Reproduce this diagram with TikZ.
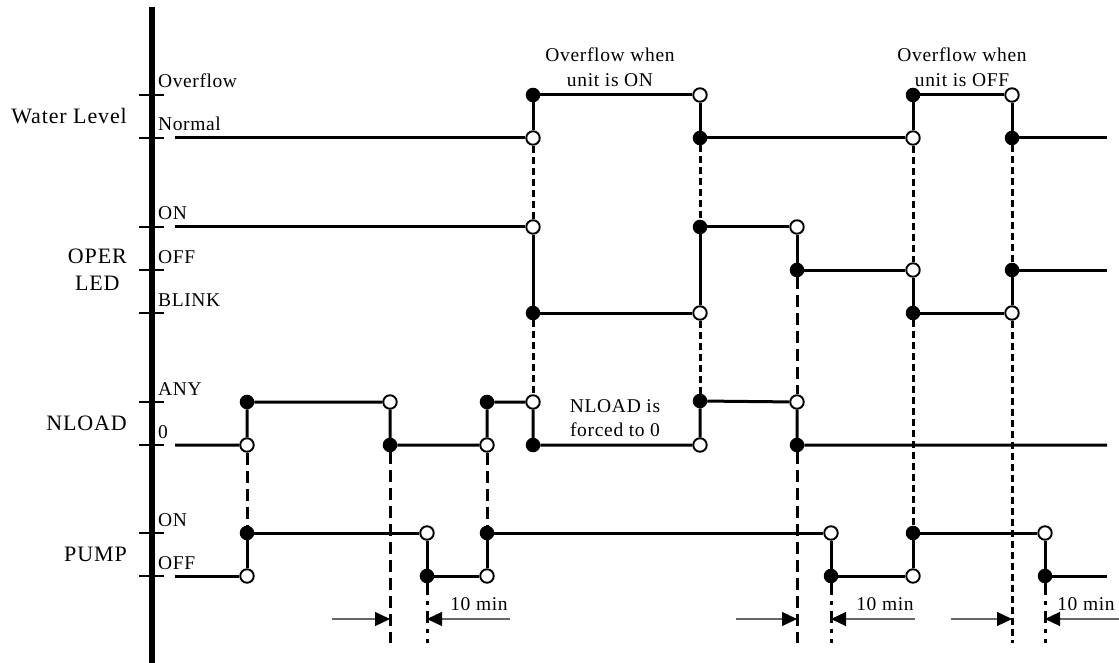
\documentclass[tikz,border=0pt]{standalone}
\usepackage{fontspec}
\setmainfont{Liberation Serif}
\usetikzlibrary{arrows.meta}
\begin{document}
\begin{tikzpicture}[x=1pt,y=-1pt,
  sig/.style={line width=3pt},
  fdot/.style={circle, fill=black, draw=black, line width=1pt, inner sep=0pt, minimum size=13.5pt},
  odot/.style={circle, fill=white, draw=black, line width=1.9pt, inner sep=0pt, minimum size=13.5pt},
  longdash/.style={line width=3pt, dash pattern=on 12pt off 6pt},
  shortdash/.style={line width=3pt, dash pattern=on 7pt off 4pt},
  dashdot/.style={line width=3pt, dash pattern=on 12pt off 6pt on 4pt off 6pt},
  tmark/.style={line width=2pt},
  timearrow/.style={draw=black!60, line width=1.2pt, -{Triangle[length=15pt,width=14pt,black]}},
  lvl/.style={anchor=base west, inner sep=0pt, font=\fontsize{19.5}{24}\selectfont\addfontfeature{LetterSpace=3}},
  signame/.style={anchor=east, inner sep=0pt, font=\fontsize{22}{27}\selectfont\addfontfeature{LetterSpace=4}, align=center},
  note/.style={inner sep=0pt, font=\fontsize{19.5}{24.5}\selectfont\addfontfeature{LetterSpace=3.5}, align=center}]
\useasboundingbox (0,0) rectangle (1119,663);

% axis and ticks
\draw[line width=5.5pt] (152,7) -- (152,663);
\foreach \yy in {95,138,227,270,313,402,445,533,576}
  \draw[tmark] (139,\yy) -- (164,\yy);

% signal names
\node[signame] (lwater) at (127,116.5) {Water Level};
\node[signame] (loper) at (127,270) {OPER\\LED};
\node[signame] (lnload) at (127,423.5) {NLOAD};
\node[signame] (lpump) at (127,554.5) {PUMP};

% level labels
\node[lvl] (tover) at (158,88) {Overflow};
\node[lvl] (tnorm) at (158,131) {Normal};
\node[lvl] (ton) at (158,220) {ON};
\node[lvl] (toff) at (158,263) {OFF};
\node[lvl] (tblink) at (158,306) {BLINK};
\node[lvl] (tany) at (158,395) {ANY};
\node[lvl] (tzero) at (158,438) {0};
\node[lvl] (tpon) at (158,526) {ON};
\node[lvl] (tpoff) at (158,569) {OFF};

% notes
\node[note] (n1) at (610,67) {Overflow when\\unit is ON};
\node[note] (n2) at (962,67) {Overflow when\\unit is OFF};
\node[note] (n3) at (615,418) {NLOAD is\\forced to 0};

% ---------- Water level
\coordinate (w0) at (175,138);
\coordinate (wend) at (1107,138);
\node[odot] (w1o) at (533,138) {};
\node[fdot] (w1f) at (533,95) {};
\node[odot] (w2o) at (700,95) {};
\node[fdot] (w2f) at (700,138) {};
\node[odot] (w3o) at (913,138) {};
\node[fdot] (w3f) at (913,95) {};
\node[odot] (w4o) at (1012,95) {};
\node[fdot] (w4f) at (1012,138) {};
\draw[sig] (w0) -- (w1o) -- (w1f) -- (w2o) -- (w2f) -- (w3o) -- (w3f) -- (w4o) -- (w4f) -- (wend);

% ---------- OPER LED
\coordinate (o0) at (175,227);
\coordinate (oend) at (1107,270);
\node[odot] (o1o) at (533,227) {};
\node[fdot] (o1f) at (533,313) {};
\node[odot] (o2o) at (700,313) {};
\node[fdot] (o2f) at (700,227) {};
\node[odot] (o3o) at (797,227) {};
\node[fdot] (o3f) at (797,270) {};
\node[odot] (o4o) at (913,270) {};
\node[fdot] (o4f) at (913,313) {};
\node[odot] (o5o) at (1012,313) {};
\node[fdot] (o5f) at (1012,270) {};
\draw[sig] (o0) -- (o1o) -- (o1f) -- (o2o) -- (o2f) -- (o3o) -- (o3f) -- (o4o) -- (o4f) -- (o5o) -- (o5f) -- (oend);

% ---------- NLOAD
\coordinate (n0) at (175,445);
\coordinate (nend) at (1107,445);
\node[odot] (n1o) at (247,445) {};
\node[fdot] (n1f) at (247,402) {};
\node[odot] (n2o) at (390,402) {};
\node[fdot] (n2f) at (390,445) {};
\node[odot] (n3o) at (487,445) {};
\node[fdot] (n3f) at (487,402) {};
\node[odot] (n4o) at (533,402) {};
\node[fdot] (n4f) at (533,445) {};
\node[odot] (n5o) at (700,445) {};
\node[fdot] (n5f) at (700,401) {};
\node[odot] (n6o) at (797,402) {};
\node[fdot] (n6f) at (797,445) {};
\draw[sig] (n0) -- (n1o) -- (n1f) -- (n2o) -- (n2f) -- (n3o) -- (n3f) -- (n4o) -- (n4f) -- (n5o) -- (n5f) -- (n6o) -- (n6f) -- (nend);

% ---------- PUMP
\coordinate (p0) at (175,576);
\coordinate (pend) at (1107,576);
\node[odot] (p1o) at (247,576) {};
\node[fdot] (p1f) at (247,533) {};
\node[odot] (p2o) at (427,533) {};
\node[fdot] (p2f) at (427,576) {};
\node[odot] (p3o) at (487,576) {};
\node[fdot] (p3f) at (487,533) {};
\node[odot] (p4o) at (831,533) {};
\node[fdot] (p4f) at (831,576) {};
\node[odot] (p5o) at (913,576) {};
\node[fdot] (p5f) at (913,533) {};
\node[odot] (p6o) at (1045,533) {};
\node[fdot] (p6f) at (1045,576) {};
\draw[sig] (p0) -- (p1o) -- (p1f) -- (p2o) -- (p2f) -- (p3o) -- (p3f) -- (p4o) -- (p4f) -- (p5o) -- (p5f) -- (p6o) -- (p6f) -- (pend);

% ---------- dashed guide lines
\coordinate (e390) at (390,643);
\coordinate (e797) at (797,643);
\coordinate (e1012) at (1012,643);
\coordinate (e427) at (427,643);
\coordinate (e831) at (831,643);
\coordinate (e1045) at (1045,643);
\draw[longdash] (n1o) -- (p1f);
\draw[longdash] (n2f) -- (e390);
\draw[longdash] (n3o) -- (p3f);
\draw[shortdash] (w1o) -- (o1o);
\draw[shortdash] (o1f) -- (n4o);
\draw[shortdash] (w2f) -- (o2f);
\draw[shortdash] (o2o) -- (n5f);
\draw[longdash] (o3f) -- (n6o);
\draw[longdash] (n6f) -- (e797);
\draw[shortdash] (w3o) -- (o4o);
\draw[shortdash] (o4f) -- (p5f);
\draw[shortdash] (w4f) -- (o5f);
\draw[shortdash] (o5o) -- (e1012);
\draw[dashdot] (p2f) -- (e427);
\draw[dashdot] (p4f) -- (e831);
\draw[dashdot] (p6f) -- (e1045);

% ---------- 10 min arrows
\coordinate (a1s) at (332,619);  \coordinate (a1e) at (390,619);
\coordinate (a2s) at (510,619);  \coordinate (a2e) at (427,619);
\coordinate (a3s) at (736,619);  \coordinate (a3e) at (797,619);
\coordinate (a4s) at (915,619);  \coordinate (a4e) at (831,619);
\coordinate (a5s) at (951,619);  \coordinate (a5e) at (1012,619);
\coordinate (a6s) at (1119,619); \coordinate (a6e) at (1045,619);
\draw[timearrow] (a1s) -- (a1e);
\draw[timearrow] (a2s) -- (a2e);
\draw[timearrow] (a3s) -- (a3e);
\draw[timearrow] (a4s) -- (a4e);
\draw[timearrow] (a5s) -- (a5e);
\draw[timearrow] (a6s) -- (a6e);
\node[note] (m1) at (479,604) {10 min};
\node[note] (m2) at (885,604) {10 min};
\node[note] (m3) at (1086,604) {10 min};
\end{tikzpicture}
\end{document}
